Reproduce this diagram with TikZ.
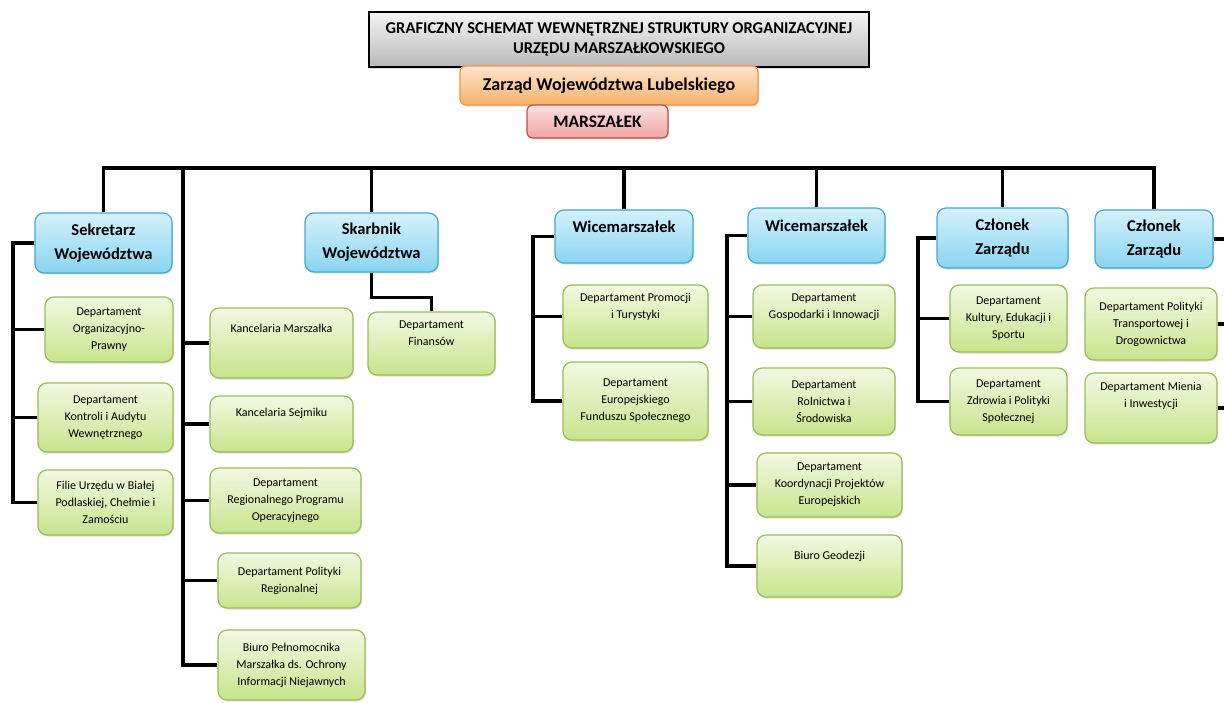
\documentclass[tikz,border=0pt]{standalone}
\usepackage{fontspec}
\setmainfont{Carlito}
\usetikzlibrary{shadows}

\definecolor{headtop}{HTML}{D4F1FC}
\definecolor{headbot}{HTML}{8AD4F1}
\definecolor{headline}{HTML}{45A9C8}
\definecolor{depttop}{HTML}{F2F9E2}
\definecolor{deptbot}{HTML}{C7E48C}
\definecolor{deptline}{HTML}{9BBB59}
\definecolor{boardtop}{HTML}{FDE5CB}
\definecolor{boardbot}{HTML}{F9B16A}
\definecolor{boardline}{HTML}{F79646}
\definecolor{chieftop}{HTML}{FCE1E1}
\definecolor{chiefbot}{HTML}{F0A3A3}
\definecolor{chiefline}{HTML}{C0504D}

\tikzset{
  box/.style 2 args={minimum width=#1, minimum height=#2},
  soft/.style={drop shadow={opacity=0.25, shadow xshift=1pt, shadow yshift=-1.5pt}},
  title/.style={draw=black, line width=1.6pt, top color=gray!8, bottom color=gray!55,
    font=\fontsize{16.5}{20.5}\selectfont\bfseries, align=center, inner sep=1pt, soft},
  board/.style={draw=boardline, line width=1.2pt, rounded corners=6pt, top color=boardtop,
    bottom color=boardbot, font=\fontsize{18}{20}\selectfont\bfseries, inner sep=1pt, soft},
  chief/.style={draw=chiefline, line width=1.2pt, rounded corners=6pt, top color=chieftop,
    bottom color=chiefbot, font=\fontsize{17.5}{20}\selectfont\bfseries, inner sep=1pt, soft},
  head/.style={draw=headline, line width=1.2pt, rounded corners=9pt, top color=headtop,
    bottom color=headbot, font=\fontsize{16.5}{24}\selectfont\bfseries, align=center, inner sep=1pt, soft},
  dept/.style={draw=deptline, line width=1.2pt, rounded corners=9pt, top color=depttop,
    bottom color=deptbot, font=\fontsize{12}{17}\selectfont, align=center, inner sep=1pt, soft},
  wire/.style={line width=3.2pt, black}
}

\begin{document}
\begin{tikzpicture}[x=1pt, y=-1pt]
  \useasboundingbox (0,0) rectangle (1224,702);

  % top of the chart
  \node[title, box={500pt}{55pt}] (title) at (619,39.5)
    {GRAFICZNY SCHEMAT WEWNĘTRZNEJ STRUKTURY ORGANIZACYJNEJ\\URZĘDU MARSZAŁKOWSKIEGO};
  \node[board, box={298pt}{39pt}] (board) at (609,85.5) {Zarząd Województwa Lubelskiego};
  \node[chief, box={141pt}{33pt}] (chief) at (597.5,121.5) {MARSZAŁEK};

  % heads
  \node[head, box={137pt}{60pt}] (sek)   at (103.5,243)  {Sekretarz\\Województwa};
  \node[head, box={133pt}{59pt}] (skarb) at (371.5,242.5) {Skarbnik\\Województwa};
  \node[head, box={138pt}{53pt}] (wice1) at (624,236.5)  {Wicemarszałek\\[-4pt]\mbox{}};
  \node[head, box={137pt}{55pt}] (wice2) at (816.5,235.5) {Wicemarszałek\\[-4pt]\mbox{}};
  \node[head, box={131pt}{60pt}] (czl1)  at (1002.5,238) {Członek\\Zarządu};
  \node[head, box={118pt}{58pt}] (czl2)  at (1154,239)   {Członek\\Zarządu};

  % Sekretarz
  \node[dept, box={128pt}{65pt}] (org)   at (109,329.5)   {Departament\\Organizacyjno-\\Prawny};
  \node[dept, box={135pt}{69pt}] (kontr) at (105.5,417.5) {Departament\\Kontroli i Audytu\\Wewnętrznego};
  \node[dept, box={135pt}{65pt}] (filie) at (105.5,502.5) {Filie Urzędu w Białej\\Podlaskiej, Chełmie i\\Zamościu};

  % Marszałek
  \node[dept, box={143pt}{70pt}] (kmar)  at (281.5,343)   {Kancelaria Marszałka\\[12pt]\mbox{}};
  \node[dept, box={143pt}{56pt}] (ksej)  at (281.5,424)   {Kancelaria Sejmiku\\[6pt]\mbox{}};
  \node[dept, box={151pt}{65pt}] (drpo)  at (285.5,500.5) {Departament\\Regionalnego Programu\\Operacyjnego};
  \node[dept, box={143pt}{55pt}] (dpr)   at (289.5,580.5) {Departament Polityki\\Regionalnej};
  \node[dept, box={147pt}{70pt}] (biuro) at (291.5,665)   {Biuro Pełnomocnika\\Marszałka ds. Ochrony\\Informacji Niejawnych};

  % Skarbnik
  \node[dept, box={127pt}{63pt}] (fin)   at (431.5,343.5) {Departament\\Finansów\\[4pt]\mbox{}};

  % Wicemarszałek I
  \node[dept, box={145pt}{63pt}] (prom)  at (635.5,316.5) {Departament Promocji\\i Turystyki\\[4pt]\mbox{}};
  \node[dept, box={145pt}{78pt}] (efs)   at (635.5,401)   {Departament\\Europejskiego\\Funduszu Społecznego};

  % Wicemarszałek II
  \node[dept, box={142pt}{63pt}] (gosp)  at (824,316.5)   {Departament\\Gospodarki i Innowacji\\[4pt]\mbox{}};
  \node[dept, box={142pt}{67pt}] (roln)  at (824,401.5)   {Departament\\Rolnictwa i\\Środowiska};
  \node[dept, box={145pt}{64pt}] (koord) at (829.5,485)   {Departament\\Koordynacji Projektów\\Europejskich};
  \node[dept, box={145pt}{62pt}] (geod)  at (829.5,566)   {Biuro Geodezji\\[4pt]\mbox{}};

  % Członek I
  \node[dept, box={117pt}{67pt}] (kult)  at (1008.5,318.5) {Departament\\Kultury, Edukacji i\\Sportu};
  \node[dept, box={117pt}{67pt}] (zdr)   at (1008.5,401.5) {Departament\\Zdrowia i Polityki\\Społecznej};

  % Członek II
  \node[dept, box={132pt}{72pt}] (trans) at (1151,324)    {Departament Polityki\\Transportowej i\\Drogownictwa};
  \node[dept, box={132pt}{70pt}] (mien)  at (1151,408)    {Departament Mienia\\i Inwestycji\\[10pt]\mbox{}};

  % wires
  \coordinate (bus)  at (0,168);
  \coordinate (kbus) at (183,168);
  \coordinate (sbus) at (13,0);
  \coordinate (w1bus) at (533,0);
  \coordinate (w2bus) at (727,0);
  \coordinate (c1bus) at (918,0);
  \coordinate (rim)  at (1230,0);

  \draw[wire] (sek.north) |- (czl2.north |- bus) -- (czl2.north);
  \foreach \n in {skarb,wice1,wice2,czl1}
    \draw[wire] (\n.north) -- (\n.north |- bus);

  \draw[wire] (kbus) |- (biuro.west);
  \foreach \n in {kmar,ksej,drpo,dpr}
    \draw[wire] (\n.west) -- (\n.west -| kbus);

  \draw[wire] (sek.west) -| (sbus |- filie.west) -- (filie.west);
  \foreach \n in {org,kontr}
    \draw[wire] (\n.west) -- (\n.west -| sbus);

  \draw[wire] (skarb.south) -- ++(0,25) -| (fin.north);

  \draw[wire] (wice1.west) -| (w1bus |- efs.west) -- (efs.west);
  \draw[wire] (prom.west) -- (prom.west -| w1bus);

  \draw[wire] (wice2.west) -| (w2bus |- geod.west) -- (geod.west);
  \foreach \n in {gosp,roln,koord}
    \draw[wire] (\n.west) -- (\n.west -| w2bus);

  \draw[wire] (czl1.west) -| (c1bus |- zdr.west) -- (zdr.west);
  \draw[wire] (kult.west) -- (kult.west -| c1bus);

  \foreach \n in {czl2,trans,mien}
    \draw[wire] (\n.east) -- (\n.east -| rim);
\end{tikzpicture}
\end{document}
